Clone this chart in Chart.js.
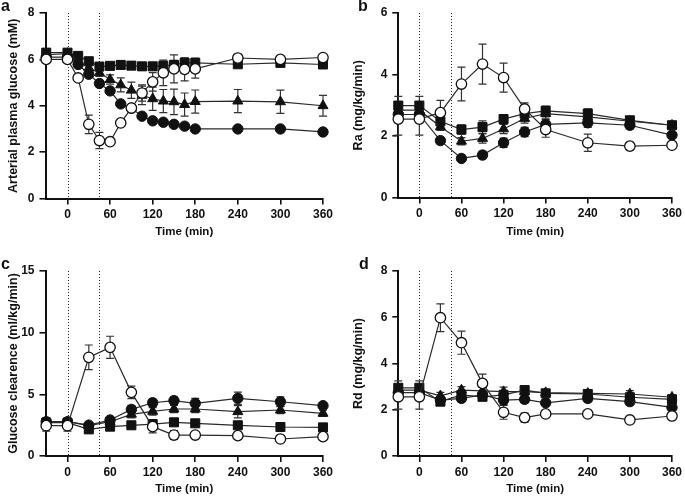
<!DOCTYPE html>
<html>
<head>
<meta charset="utf-8">
<script src="https://cdn.jsdelivr.net/npm/chart.js@4/dist/chart.umd.min.js"></script>
<style>
body { margin:0; background:#fff; width:685px; height:497px; position:relative; overflow:hidden; font-family:"Liberation Sans", Arial, sans-serif; }
canvas { position:absolute; }
.lab { position:absolute; font-weight:bold; font-size:16px; color:#111; line-height:16px; }
</style>
</head>
<body>
<canvas id="ca" width="342" height="240" style="left:0;top:0"></canvas>
<canvas id="cb" width="340" height="240" style="left:345px;top:0"></canvas>
<canvas id="cc" width="342" height="257" style="left:0;top:240px"></canvas>
<canvas id="cd" width="340" height="257" style="left:345px;top:240px"></canvas>
<div class="lab" style="left:1px;top:-2px">a</div>
<div class="lab" style="left:358px;top:-2px">b</div>
<div class="lab" style="left:1px;top:256px">c</div>
<div class="lab" style="left:359px;top:256px">d</div>
<script>
// time points
var timeA = [-30, 0, 15, 30, 45, 60, 75, 90, 105, 120, 135, 150, 165, 180, 240, 300, 360];
var timeB = [-30, 0, 30, 60, 90, 120, 150, 180, 240, 300, 360];
var xTicks = [0, 60, 120, 180, 240, 300, 360];
var markLines = [0, 45];

// a - arterial plasma glucose (mM)
var openA = [6.0, 6.0, 5.2, 3.2, 2.5, 2.45, 3.26, 3.9, 4.55, 5.03, 5.42, 5.59, 5.57, 5.59, 6.06, 6.0, 6.08];
var openAErr = [0.1, 0.1, 0.1, 0.4, 0.35, 0.1, 0.1, 0.15, 0.35, 0.4, 0.55, 0.6, 0.5, 0.4, 0.15, 0.1, 0.1];
var sqA = [6.29, 6.29, 6.15, 5.92, 5.69, 5.72, 5.76, 5.73, 5.7, 5.7, 5.72, 5.76, 5.85, 5.85, 5.79, 5.85, 5.78];
var sqAErr = [0.15, 0.15, 0.15, 0.15, 0.15, 0.15, 0.15, 0.15, 0.15, 0.15, 0.2, 0.2, 0.2, 0.2, 0.15, 0.1, 0.1];
var triA = [6.2, 6.25, 5.92, 5.63, 5.42, 5.13, 4.9, 4.67, 4.45, 4.3, 4.2, 4.17, 4.05, 4.18, 4.2, 4.17, 4.0];
var triAErr = [0.1, 0.1, 0.1, 0.15, 0.15, 0.2, 0.3, 0.35, 0.4, 0.5, 0.5, 0.55, 0.5, 0.5, 0.5, 0.5, 0.45];
var dotA = [6.1, 6.1, 5.78, 5.36, 4.96, 4.64, 4.08, 3.9, 3.55, 3.35, 3.29, 3.2, 3.12, 3.0, 3.0, 3.0, 2.87];
var dotAErr = [0.1, 0.1, 0.1, 0.1, 0.1, 0.1, 0.1, 0.1, 0.1, 0.12, 0.12, 0.12, 0.12, 0.12, 0.1, 0.1, 0.08];

// b - Ra (mg/kg/min)
var openB = [2.55, 2.55, 2.76, 3.69, 4.34, 3.9, 2.88, 2.21, 1.78, 1.67, 1.7];
var openBErr = [0.52, 0.52, 0.4, 0.55, 0.65, 0.47, 0.2, 0.25, 0.28, 0.12, 0.08];
var sqB = [2.99, 2.99, 2.48, 2.21, 2.29, 2.55, 2.73, 2.82, 2.73, 2.51, 2.35];
var sqBErr = [0.3, 0.3, 0.15, 0.15, 0.2, 0.15, 0.15, 0.15, 0.15, 0.1, 0.08];
var triB = [2.84, 2.84, 2.3, 1.83, 1.92, 2.23, 2.57, 2.73, 2.62, 2.48, 2.35];
var triBErr = [0.2, 0.2, 0.12, 0.12, 0.15, 0.15, 0.15, 0.15, 0.15, 0.1, 0.08];
var dotB = [2.7, 2.7, 1.85, 1.27, 1.38, 1.78, 2.13, 2.38, 2.43, 2.35, 2.03];
var dotBErr = [0.15, 0.15, 0.1, 0.1, 0.12, 0.15, 0.15, 0.15, 0.15, 0.12, 0.08];

// c - glucose clearence (ml/kg/min)
var openC = [2.46, 2.46, 8.0, 8.81, 5.16, 2.38, 1.7, 1.7, 1.65, 1.38, 1.57];
var openCErr = [0.45, 0.45, 1.0, 0.9, 0.5, 0.5, 0.35, 0.15, 0.15, 0.1, 0.1];
var sqC = [2.7, 2.7, 2.16, 2.38, 2.49, 2.59, 2.73, 2.65, 2.49, 2.35, 2.32];
var sqCErr = [0.2, 0.2, 0.15, 0.15, 0.15, 0.15, 0.15, 0.15, 0.15, 0.15, 0.12];
var triC = [2.78, 2.78, 2.46, 2.78, 3.38, 3.62, 3.81, 3.81, 3.59, 3.73, 3.46];
var triCErr = [0.3, 0.3, 0.2, 0.2, 0.3, 0.3, 0.3, 0.3, 0.5, 0.3, 0.25];
var dotC = [2.78, 2.78, 2.5, 2.92, 3.78, 4.32, 4.49, 4.27, 4.68, 4.4, 4.08];
var dotCErr = [0.3, 0.3, 0.2, 0.2, 0.3, 0.3, 0.3, 0.4, 0.5, 0.4, 0.25];

// d - Rd (mg/kg/min)
var openD = [2.56, 2.56, 5.98, 4.9, 3.14, 1.89, 1.66, 1.82, 1.82, 1.56, 1.73];
var openDErr = [0.53, 0.53, 0.6, 0.5, 0.4, 0.3, 0.2, 0.1, 0.1, 0.1, 0.1];
var sqD = [2.95, 2.95, 2.35, 2.64, 2.56, 2.64, 2.85, 2.71, 2.68, 2.54, 2.45];
var sqDErr = [0.3, 0.3, 0.15, 0.15, 0.15, 0.2, 0.15, 0.12, 0.15, 0.15, 0.1];
var triD = [2.85, 2.85, 2.6, 2.85, 2.82, 2.78, 2.78, 2.74, 2.71, 2.68, 2.54];
var triDErr = [0.2, 0.2, 0.15, 0.15, 0.15, 0.2, 0.15, 0.12, 0.15, 0.15, 0.1];
var dotD = [2.74, 2.74, 2.42, 2.49, 2.64, 2.42, 2.45, 2.3, 2.49, 2.35, 2.1];
var dotDErr = [0.2, 0.2, 0.15, 0.15, 0.15, 0.2, 0.15, 0.1, 0.15, 0.15, 0.1];

var ink = "#111";
var lineInk = "#2a2a2a";

function pts(t, v) {
  return t.map(function(x, i) { return { x: x, y: v[i] }; });
}

function series(t, v, err, style, open, ord) {
  var rad = style === "rect" ? 6.4 : (style === "triangle" ? 5.8 : 5.2);
  return {
    data: pts(t, v),
    err: err,
    pointStyle: style,
    pointRadius: rad,
    pointHoverRadius: rad,
    pointBackgroundColor: open ? "#fff" : ink,
    pointBorderColor: ink,
    pointBorderWidth: open ? 1.3 : 1,
    borderColor: lineInk,
    borderWidth: 1.2,
    showLine: true,
    fill: false,
    tension: 0,
    clip: false,
    order: ord
  };
}

// error bars + dotted markers, drawn under the points
var extras = {
  id: "extras",
  beforeDatasetsDraw: function(chart) {
    var c = chart.ctx, xs = chart.scales.x, ys = chart.scales.y, ca = chart.chartArea;
    c.save();
    c.strokeStyle = "#222";
    c.lineWidth = 1;
    c.setLineDash([1, 2]);
    markLines.forEach(function(m) {
      var px = Math.round(xs.getPixelForValue(m)) + 0.5;
      c.beginPath(); c.moveTo(px, ca.top); c.lineTo(px, ca.bottom); c.stroke();
    });
    c.setLineDash([]);
    c.strokeStyle = "#333";
    c.lineWidth = 1.2;
    chart.data.datasets.forEach(function(ds) {
      ds.data.forEach(function(p, i) {
        var e = ds.err[i];
        var px = xs.getPixelForValue(p.x);
        var y1 = ys.getPixelForValue(p.y + e), y2 = ys.getPixelForValue(p.y - e);
        c.beginPath();
        c.moveTo(px, y1); c.lineTo(px, y2);
        c.moveTo(px - 4, y1); c.lineTo(px + 4, y1);
        c.moveTo(px - 4, y2); c.lineTo(px + 4, y2);
        c.stroke();
      });
    });
    c.restore();
  }
};

function panel(id, t, sets, xmin, ymax, ystep, ytitle, box) {
  var yTicks = [];
  for (var v = 0; v <= ymax; v += ystep) yTicks.push(v);
  var fam = "'Liberation Sans', Arial, sans-serif";
  var tickFont = { family: fam, size: 12, weight: "bold" };
  var xTitleFont = { family: fam, size: 11.5, weight: "bold" };
  var yTitleFont = { family: fam, size: 12.5, weight: "bold" };
  new Chart(document.getElementById(id), {
    type: "scatter",
    data: { datasets: sets },
    options: {
      responsive: false,
      animation: false,
      events: [],
      layout: { padding: { left: 4, top: box.top, right: box.w - box.right, bottom: 0 } },
      plugins: { legend: { display: false }, tooltip: { enabled: false } },
      scales: {
        x: {
          type: "linear", min: xmin, max: 360,
          afterBuildTicks: function(s) { s.ticks = xTicks.map(function(v) { return { value: v }; }); },
          afterFit: function(s) { s.height = box.h - box.bottom; },
          border: { color: ink, width: 2 },
          grid: { drawOnChartArea: false, drawTicks: true, tickLength: 6, tickColor: ink, lineWidth: 1.6 },
          ticks: { color: ink, font: tickFont, padding: 3, maxRotation: 0, autoSkip: false },
          title: { display: true, text: "Time (min)", color: ink, font: xTitleFont, padding: { top: 0, bottom: 1 } }
        },
        y: {
          type: "linear", min: 0, max: ymax,
          afterBuildTicks: function(s) { s.ticks = yTicks.map(function(v) { return { value: v }; }); },
          afterFit: function(s) { s.width = box.left - 4; },
          border: { color: ink, width: 2 },
          grid: { drawOnChartArea: false, drawTicks: true, tickLength: 6, tickColor: ink, lineWidth: 1.6 },
          ticks: { color: ink, font: tickFont, padding: 5, autoSkip: false },
          title: { display: true, text: ytitle, color: ink, font: yTitleFont, padding: { top: 2, bottom: 0 } }
        }
      }
    },
    plugins: [extras]
  });
}

panel("ca", timeA, [
  series(timeA, openA, openAErr, "circle", true, 0),
  series(timeA, dotA, dotAErr, "circle", false, 1),
  series(timeA, triA, triAErr, "triangle", false, 2),
  series(timeA, sqA, sqAErr, "rect", false, 3)
], -31, 8, 2, "Arterial plasma glucose (mM)", { w: 342, h: 240, left: 45.5, top: 13, right: 323, bottom: 198.5 });

panel("cb", timeB, [
  series(timeB, openB, openBErr, "circle", true, 0),
  series(timeB, dotB, dotBErr, "circle", false, 1),
  series(timeB, triB, triBErr, "triangle", false, 2),
  series(timeB, sqB, sqBErr, "rect", false, 3)
], -30, 6, 2, "Ra (mg/kg/min)", { w: 340, h: 240, left: 53.3, top: 13, right: 330, bottom: 197.5 });

panel("cc", timeB, [
  series(timeB, openC, openCErr, "circle", true, 0),
  series(timeB, dotC, dotCErr, "circle", false, 1),
  series(timeB, triC, triCErr, "triangle", false, 2),
  series(timeB, sqC, sqCErr, "rect", false, 3)
], -31, 15, 5, "Glucose clearence (ml/kg/min)", { w: 342, h: 257, left: 45.5, top: 31, right: 323, bottom: 216 });

panel("cd", timeB, [
  series(timeB, openD, openDErr, "circle", true, 0),
  series(timeB, dotD, dotDErr, "circle", false, 1),
  series(timeB, triD, triDErr, "triangle", false, 2),
  series(timeB, sqD, sqDErr, "rect", false, 3)
], -30, 8, 2, "Rd (mg/kg/min)", { w: 340, h: 257, left: 53.3, top: 31, right: 330, bottom: 216 });
</script>
</body>
</html>
